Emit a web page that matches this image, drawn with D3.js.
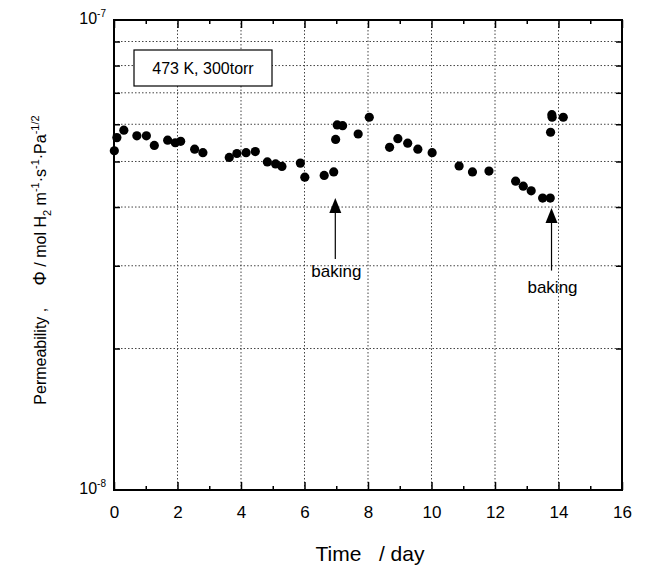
<!DOCTYPE html>
<html>
<head>
<meta charset="utf-8">
<script src="https://cdn.jsdelivr.net/npm/d3@7"></script>
<style>
  body { margin: 0; background: #fff; }
  text { font-family: "Liberation Sans", Arial, Helvetica, sans-serif; fill: #000; }
</style>
</head>
<body>
<div id="chart"></div>
<script>
// measured points (day, permeability)
const days = [0.01, 0.09, 0.31, 0.72, 1.02, 1.27, 1.69, 1.93, 2.10, 2.54, 2.80,
  3.63, 3.87, 4.16, 4.45, 4.83, 5.09, 5.29, 5.87, 6.01, 6.62, 6.92, 6.98, 7.03, 7.20,
  7.69, 8.04, 8.68, 8.94, 9.25, 9.57, 10.02, 10.87, 11.29, 11.81, 12.65, 12.89, 13.14,
  13.50, 13.74, 13.75, 13.79, 13.80, 14.15];
const perm = [5.27e-8, 5.62e-8, 5.83e-8, 5.67e-8, 5.67e-8, 5.41e-8, 5.55e-8, 5.48e-8, 5.52e-8, 5.31e-8, 5.22e-8,
  5.10e-8, 5.20e-8, 5.22e-8, 5.25e-8, 4.99e-8, 4.94e-8, 4.88e-8, 4.96e-8, 4.63e-8, 4.67e-8, 4.75e-8, 5.57e-8, 5.98e-8, 5.96e-8,
  5.72e-8, 6.21e-8, 5.36e-8, 5.59e-8, 5.47e-8, 5.31e-8, 5.22e-8, 4.89e-8, 4.75e-8, 4.77e-8, 4.54e-8, 4.43e-8, 4.33e-8,
  4.18e-8, 4.18e-8, 5.77e-8, 6.29e-8, 6.21e-8, 6.21e-8];

const xTicks = [0, 2, 4, 6, 8, 10, 12, 14, 16];
const xMinor = [1, 3, 5, 7, 9, 11, 13, 15];
const yGrid = [2e-8, 3e-8, 4e-8, 5e-8, 6e-8, 7e-8, 8e-8, 9e-8];
const yLabels = [{ v: 1e-7, exp: '-7' }, { v: 1e-8, exp: '-8' }];

// baking arrows: day, tip value, tail value, label value
const bakingDay = [6.97, 13.78];
const bakingTip = [4.18e-8, 3.98e-8];
const bakingTail = [3.10e-8, 2.93e-8];
const bakingText = [2.84e-8, 2.62e-8];

const width = 645, height = 569;
const margin = { top: 20, right: 23, bottom: 79, left: 114 };

const x = d3.scaleLinear().domain([0, 16]).range([margin.left, width - margin.right]);
const y = d3.scaleLog().domain([1e-8, 1e-7]).range([height - margin.bottom, margin.top]);

const svg = d3.select('#chart').append('svg')
  .attr('width', width).attr('height', height);

// dotted grid
svg.append('g').selectAll('line').data(yGrid).join('line')
  .attr('x1', x(0)).attr('x2', x(16))
  .attr('y1', d => y(d)).attr('y2', d => y(d))
  .attr('stroke', '#444').attr('stroke-width', 1).attr('stroke-dasharray', '1.5,2');
svg.append('g').selectAll('line').data(xTicks.slice(1, -1)).join('line')
  .attr('x1', d => x(d)).attr('x2', d => x(d))
  .attr('y1', y(1e-8)).attr('y2', y(1e-7))
  .attr('stroke', '#444').attr('stroke-width', 1).attr('stroke-dasharray', '1.5,2');

// axes with inward ticks
const bottom = svg.append('g').attr('transform', `translate(0,${y(1e-8)})`)
  .call(d3.axisBottom(x).tickValues(xTicks).tickSize(-8).tickPadding(16).tickFormat(d3.format('d')));
bottom.selectAll('text').attr('font-size', 17).attr('font-family', '"Liberation Sans", Arial, sans-serif');
svg.append('g').attr('transform', `translate(0,${y(1e-8)})`)
  .call(d3.axisBottom(x).tickValues(xMinor).tickSize(-4).tickFormat(''));
svg.append('g').attr('transform', `translate(0,${y(1e-7)})`)
  .call(d3.axisTop(x).tickValues(xTicks).tickSize(-8).tickFormat(''));
svg.append('g').attr('transform', `translate(0,${y(1e-7)})`)
  .call(d3.axisTop(x).tickValues(xMinor).tickSize(-4).tickFormat(''));
svg.append('g').attr('transform', `translate(${x(0)},0)`)
  .call(d3.axisLeft(y).tickValues(yGrid).tickSize(-6).tickFormat(''));
svg.append('g').attr('transform', `translate(${x(16)},0)`)
  .call(d3.axisRight(y).tickValues(yGrid).tickSize(-6).tickFormat(''));
svg.selectAll('.domain').remove();
svg.selectAll('.tick line').attr('stroke', '#000').attr('stroke-width', 1.5);

// frame
svg.append('rect')
  .attr('x', x(0)).attr('y', y(1e-7))
  .attr('width', x(16) - x(0)).attr('height', y(1e-8) - y(1e-7))
  .attr('fill', 'none').attr('stroke', '#000').attr('stroke-width', 2);

// y decade labels
const yl = svg.append('g').selectAll('text').data(yLabels).join('text')
  .attr('x', x(0) - 8).attr('y', d => y(d.v) + 4)
  .attr('text-anchor', 'end').attr('font-size', 16);
yl.append('tspan').text('10');
yl.append('tspan').attr('dy', -7).attr('font-size', 10).text(d => d.exp);

// condition box
svg.append('rect').attr('x', 134).attr('y', 50).attr('width', 138).attr('height', 36)
  .attr('fill', '#fff').attr('stroke', '#000').attr('stroke-width', 1.2);
svg.append('text').attr('x', 203).attr('y', 74).attr('text-anchor', 'middle')
  .attr('font-size', 16).text('473 K, 300torr');

// data points
svg.append('g').selectAll('circle').data(days).join('circle')
  .attr('cx', d => x(d)).attr('cy', (d, i) => y(perm[i]))
  .attr('r', 4.6).attr('fill', '#000');

// baking arrows
const ann = svg.append('g');
bakingDay.forEach((d, i) => {
  const tip = y(bakingTip[i]);
  ann.append('line').attr('x1', x(d)).attr('x2', x(d))
    .attr('y1', y(bakingTail[i])).attr('y2', tip + 12)
    .attr('stroke', '#000').attr('stroke-width', 1.2);
  ann.append('path')
    .attr('d', `M${x(d)},${tip} L${x(d) - 6},${tip + 15} L${x(d) + 6},${tip + 15} Z`)
    .attr('fill', '#000');
  ann.append('text').attr('x', x(d) + 1).attr('y', y(bakingText[i]))
    .attr('text-anchor', 'middle').attr('font-size', 17).text('baking');
});

// axis titles
svg.append('text').attr('x', 370).attr('y', 561).attr('text-anchor', 'middle')
  .attr('font-size', 21).attr('xml:space', 'preserve').text('Time   / day');

const yt = svg.append('text')
  .attr('transform', 'translate(46,260) rotate(-90)')
  .attr('text-anchor', 'middle').attr('font-size', 16).attr('xml:space', 'preserve');
yt.append('tspan').text('Permeability ,     ');
yt.append('tspan').attr('font-size', 18).text('\u03A6');
yt.append('tspan').text(' / mol H');
yt.append('tspan').attr('dy', 5).attr('font-size', 11).text('2');
yt.append('tspan').attr('dy', -5).text(' m');
yt.append('tspan').attr('dy', -7).attr('font-size', 11).text('-1');
yt.append('tspan').attr('dy', 7).text('\u00B7s');
yt.append('tspan').attr('dy', -7).attr('font-size', 11).text('-1');
yt.append('tspan').attr('dy', 7).text('\u00B7Pa');
yt.append('tspan').attr('dy', -7).attr('font-size', 11).text('-1/2');
</script>
</body>
</html>
